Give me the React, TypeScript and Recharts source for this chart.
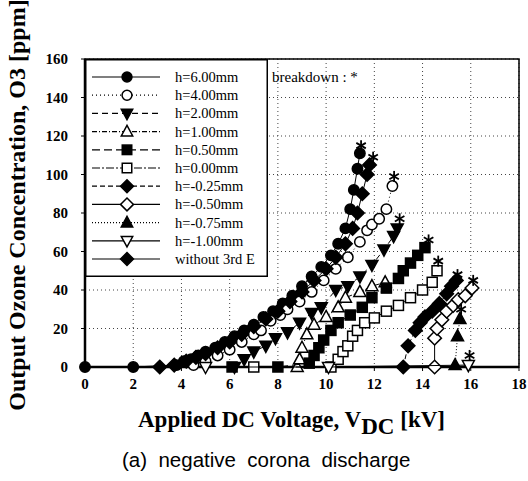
import React from 'react';
import {
  ScatterChart,
  Scatter,
  XAxis,
  YAxis,
  CartesianGrid,
  Legend,
  ReferenceArea,
  Label,
} from 'recharts';

// ---------- data (kV, ppm) ----------
const xTicks = [0, 2, 4, 6, 8, 10, 12, 14, 16, 18];
const yTicks = [0, 20, 40, 60, 80, 100, 120, 140, 160];

const h600 = [[0, 0], [2, 0], [3.8, 1], [4.1, 3], [4.4, 4], [4.7, 6], [5.0, 8], [5.4, 10], [5.8, 13], [6.2, 16], [6.6, 19], [7.0, 22], [7.4, 26], [7.8, 29], [8.2, 33], [8.6, 37], [9.0, 42], [9.4, 47], [9.8, 52], [10.2, 58], [10.5, 64], [10.8, 72], [11.0, 82], [11.15, 92], [11.3, 103], [11.4, 111]];
const h400 = [[4.5, 1], [5.0, 3], [5.5, 6], [6.0, 9], [6.5, 13], [7.0, 17], [7.3, 19], [7.7, 24], [8.1, 27], [8.4, 30], [8.9, 34], [9.4, 39], [9.9, 45], [10.4, 51], [10.9, 57], [11.4, 65], [11.7, 71], [11.9, 74], [12.2, 77], [12.5, 82], [12.75, 94]];
const h200 = [[6.2, 0], [6.6, 4], [7.0, 8], [7.5, 11], [7.9, 15], [8.4, 18], [8.9, 23], [9.4, 28], [9.8, 31], [10.4, 40], [10.9, 42], [11.4, 47], [11.9, 53], [12.4, 61], [12.8, 68], [12.95, 72]];
const h100 = [[8.8, 0], [8.9, 4], [9.0, 10], [9.2, 17], [9.5, 22], [10.0, 26], [10.5, 31], [10.8, 36], [11.4, 39], [11.9, 42], [12.45, 44]];
const h050 = [[6.1, 0], [8.0, 0], [9.3, 2], [9.5, 6], [9.7, 10], [9.9, 14], [10.2, 19], [10.5, 23], [11.0, 27], [11.5, 31], [11.9, 36], [12.5, 41], [13.0, 46], [13.2, 50], [13.5, 54], [13.8, 58], [14.1, 62]];
const h000 = [[7.0, 0], [10.2, 0], [10.5, 4], [10.7, 8], [10.9, 11], [11.1, 16], [11.3, 19], [11.6, 23], [12.0, 25.5], [12.5, 29], [13.0, 32], [13.5, 36], [14.0, 40], [14.4, 44], [14.6, 50]];
const hm025 = [[13.2, 0], [13.4, 11], [13.7, 19], [13.9, 23], [14.1, 26], [14.4, 29], [14.7, 33], [15.0, 38], [15.2, 42], [15.4, 45]];
const hm050 = [[14.5, 0], [14.5, 15], [14.6, 20], [14.8, 24.5], [15.0, 29], [15.27, 32], [15.48, 35], [15.77, 37], [16.05, 41]];
const hm075 = [[15.35, 1], [15.45, 16], [15.55, 25]];
const hm100 = [[5.0, 0], [10.1, 0], [15.9, 1]];
const without3rd = [[3.1, 0], [3.7, 1], [4.2, 3], [4.6, 5], [5.0, 7], [5.5, 10], [6.0, 13], [6.5, 17], [7.0, 21], [7.5, 25], [8.0, 29], [8.5, 34], [9.0, 39], [9.5, 45], [10.0, 51], [10.4, 57], [10.8, 64], [11.1, 72], [11.3, 80], [11.5, 90], [11.7, 100], [11.8, 105]];
const breakdown = [[11.45, 115], [11.95, 109], [12.82, 99], [13.05, 77], [14.25, 66], [14.65, 55], [15.45, 48], [16.1, 45], [15.6, 30], [15.95, 6]];

const toXY = (arr: number[][]) => arr.map(([x, y]) => ({ x, y }));

type Kind = 'circle' | 'square' | 'diamond' | 'up' | 'down';

const series: { name: string; data: number[][]; kind: Kind; filled: boolean; dash?: string }[] = [
  { name: 'h=6.00mm', data: h600, kind: 'circle', filled: true },
  { name: 'h=4.00mm', data: h400, kind: 'circle', filled: false, dash: '1 3' },
  { name: 'h=2.00mm', data: h200, kind: 'down', filled: true, dash: '6 4' },
  { name: 'h=1.00mm', data: h100, kind: 'up', filled: false, dash: '5 2 1 2' },
  { name: 'h=0.50mm', data: h050, kind: 'square', filled: true, dash: '8 4' },
  { name: 'h=0.00mm', data: h000, kind: 'square', filled: false, dash: '8 2 2 2' },
  { name: 'h=-0.25mm', data: hm025, kind: 'diamond', filled: true, dash: '5 3' },
  { name: 'h=-0.50mm', data: hm050, kind: 'diamond', filled: false },
  { name: 'h=-0.75mm', data: hm075, kind: 'up', filled: true, dash: '1 2' },
  { name: 'h=-1.00mm', data: hm100, kind: 'down', filled: false },
  { name: 'without 3rd E', data: without3rd, kind: 'diamond', filled: true },
];

const SERIF = '"Liberation Serif", "Times New Roman", serif';

function Marker({ kind, filled, cx, cy, s = 1 }: { kind: Kind; filled: boolean; cx: number; cy: number; s?: number }) {
  const fill = filled ? '#000' : '#fff';
  const common = { fill, stroke: '#000', strokeWidth: 1.5 };
  if (cx == null || cy == null || isNaN(cx) || isNaN(cy)) return null;
  switch (kind) {
    case 'circle':
      return <circle cx={cx} cy={cy} r={5.2 * s} {...common} />;
    case 'square':
      return <rect x={cx - 5 * s} y={cy - 5 * s} width={10 * s} height={10 * s} {...common} />;
    case 'diamond': {
      const d = 6.8 * s;
      return <polygon points={`${cx},${cy - d} ${cx + d},${cy} ${cx},${cy + d} ${cx - d},${cy}`} {...common} />;
    }
    case 'up':
      return <polygon points={`${cx},${cy - 6.5 * s} ${cx + 6 * s},${cy + 4.5 * s} ${cx - 6 * s},${cy + 4.5 * s}`} {...common} />;
    case 'down':
      return <polygon points={`${cx},${cy + 6.5 * s} ${cx + 6 * s},${cy - 4.5 * s} ${cx - 6 * s},${cy - 4.5 * s}`} {...common} />;
  }
  return null;
}

function Star({ cx, cy }: { cx: number; cy: number }) {
  if (cx == null || cy == null) return null;
  const r = 5.5;
  const lines = [0, 60, 120].map((a) => {
    const rad = (a * Math.PI) / 180;
    const dx = Math.sin(rad) * r;
    const dy = Math.cos(rad) * r;
    return <line key={a} x1={cx - dx} y1={cy - dy} x2={cx + dx} y2={cy + dy} stroke="#000" strokeWidth={1.8} />;
  });
  return <g>{lines}</g>;
}

function LegendBox() {
  const w = 183;
  const h = 218;
  return (
    <svg width={w} height={h} style={{ display: 'block' }}>
      <rect x={0.75} y={0.75} width={w - 1.5} height={h - 1.5} fill="#fff" stroke="#000" strokeWidth={1.5} />
      {series.map((s, i) => {
        const y = 18 + i * 18.2;
        return (
          <g key={s.name}>
            <line x1={7} y1={y} x2={75} y2={y} stroke="#000" strokeWidth={1.2} strokeDasharray={s.dash} />
            <Marker kind={s.kind} filled={s.filled} cx={42} cy={y} s={0.95} />
            <text x={90} y={y + 5} fontFamily={SERIF} fontSize={14.5} fill="#000">
              {s.name}
            </text>
          </g>
        );
      })}
    </svg>
  );
}

export default function App() {
  return (
    <div style={{ position: 'absolute', left: 0, top: 0, width: 528, height: 481, background: '#fff' }}>
      <ScatterChart width={528} height={481} margin={{ top: 59, right: 9, bottom: 84, left: 45 }}>
        <CartesianGrid stroke="#444" strokeDasharray="1 3" />
        <XAxis
          type="number"
          dataKey="x"
          domain={[0, 18]}
          ticks={xTicks}
          height={30}
          stroke="#000"
          axisLine={{ stroke: '#000', strokeWidth: 2.5 }}
          tickLine={{ stroke: '#000' }}
          tickSize={4}
          tickMargin={7}
          tick={{ fill: '#000', fontFamily: SERIF, fontWeight: 'bold', fontSize: 15 }}
        >
          <Label
            content={() => (
              <g>
                <text x={138} y={427} fontFamily={SERIF} fontWeight="bold" fontSize={23} fill="#000">
                  Applied DC Voltage, V
                  <tspan dy={7}>DC</tspan>
                  <tspan dy={-7}> [kV]</tspan>
                </text>
                <text
                  x={122}
                  y={467}
                  fontFamily='"Liberation Sans", Arial, sans-serif'
                  fontSize={20.5}
                  fill="#000"
                  style={{ whiteSpace: 'pre' }}
                >
                  {'(a)  negative  corona  discharge'}
                </text>
              </g>
            )}
          />
        </XAxis>
        <YAxis
          type="number"
          dataKey="y"
          domain={[0, 160]}
          ticks={yTicks}
          width={40}
          axisLine={{ stroke: '#000', strokeWidth: 2.5 }}
          tickLine={{ stroke: '#000' }}
          tickSize={4}
          tickMargin={13}
          tick={{ fill: '#000', fontFamily: SERIF, fontWeight: 'bold', fontSize: 15 }}
        >
          <Label
            content={() => (
              <text
                x={25}
                y={205}
                transform="rotate(-90 25 205)"
                textAnchor="middle"
                fontFamily={SERIF}
                fontWeight="bold"
                fontSize={24}
                fill="#000"
              >
                Output Ozone Concentration, O3 [ppm]
              </text>
            )}
          />
        </YAxis>
        <ReferenceArea x1={0} x2={18} y1={0} y2={160} fill="none" stroke="#000" strokeWidth={1.5} ifOverflow="visible">
          <Label
            content={() => (
              <text x={272} y={82} fontFamily={SERIF} fontSize={15} fill="#000">
                breakdown : *
              </text>
            )}
          />
        </ReferenceArea>
        {series.map((s) => (
          <Scatter
            key={s.name}
            name={s.name}
            data={toXY(s.data)}
            isAnimationActive={false}
            line={{ stroke: '#000', strokeWidth: 1, strokeDasharray: s.dash }}
            lineType="joint"
            shape={(p: any) => <Marker kind={s.kind} filled={s.filled} cx={p.cx} cy={p.cy} />}
          />
        ))}
        <Scatter
          name="breakdown"
          data={toXY(breakdown)}
          isAnimationActive={false}
          shape={(p: any) => <Star cx={p.cx} cy={p.cy} />}
          legendType="none"
        />
        <Legend
          layout="vertical"
          align="center"
          verticalAlign="middle"
          content={() => <LegendBox />}
          wrapperStyle={{ position: 'absolute', left: 85, top: 59, width: 183, height: 218 }}
        />
      </ScatterChart>
    </div>
  );
}
